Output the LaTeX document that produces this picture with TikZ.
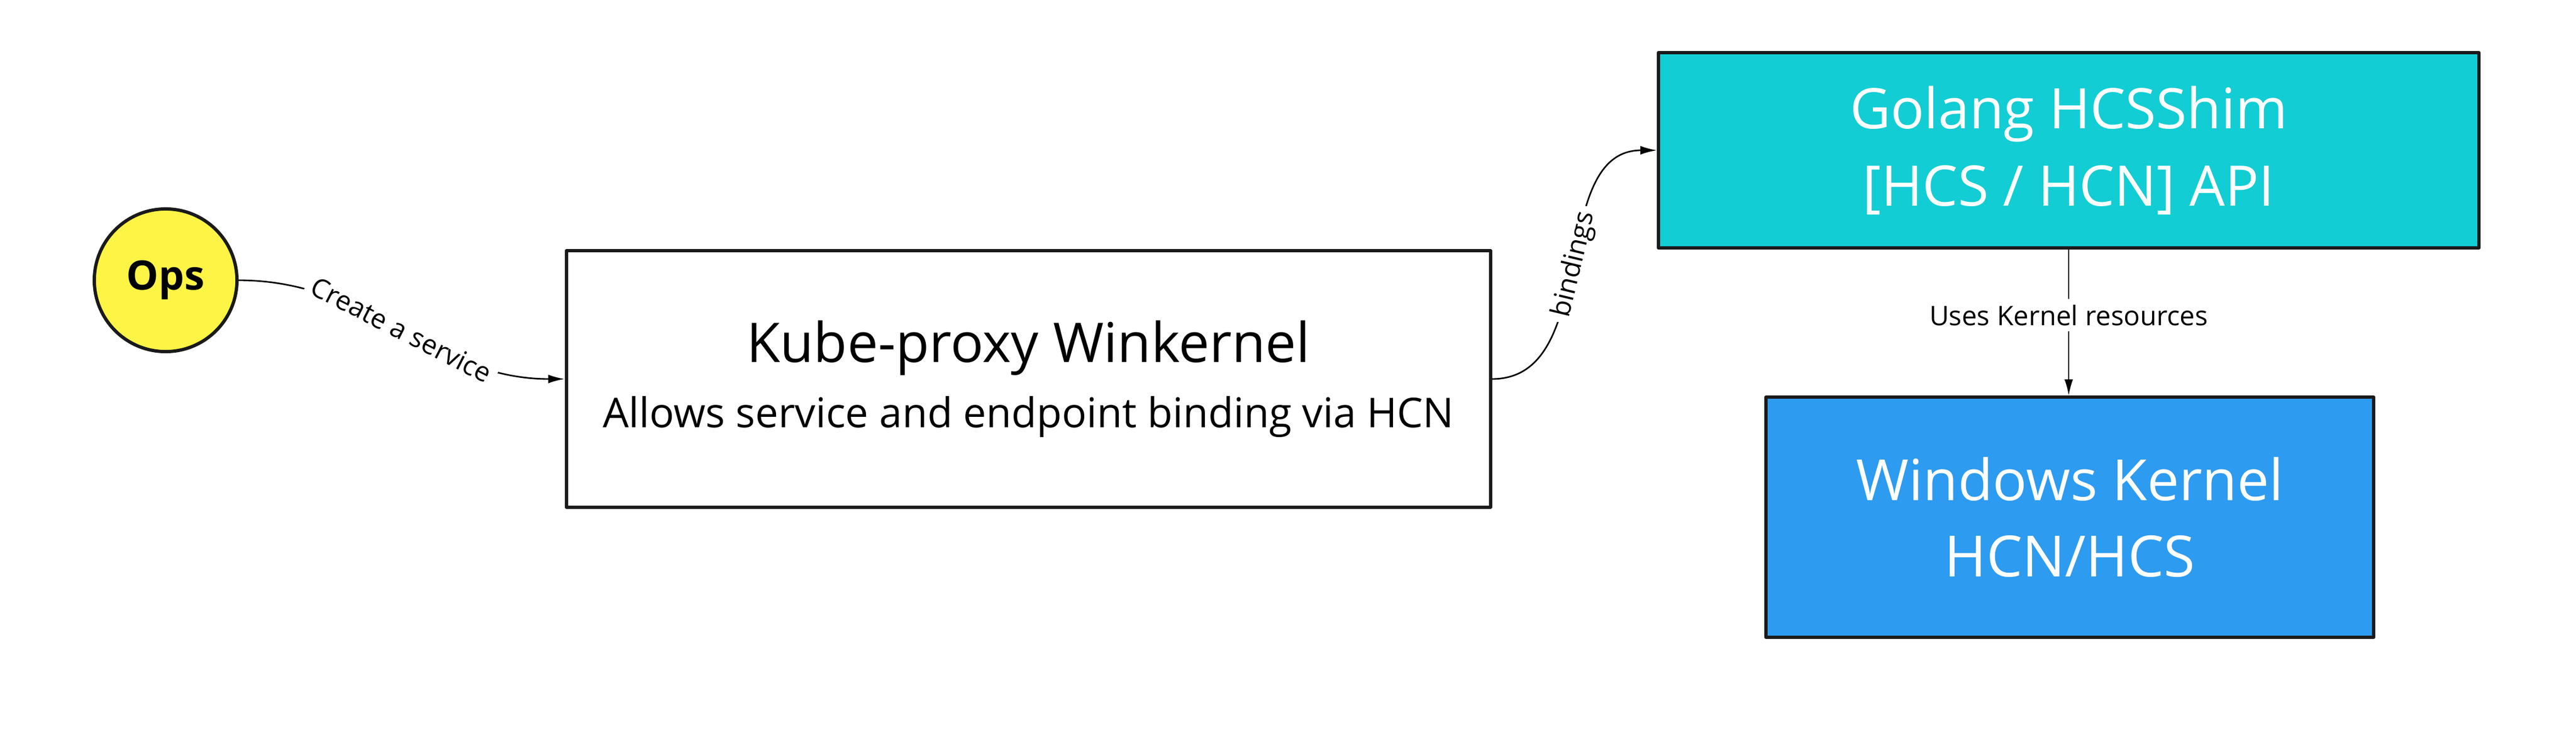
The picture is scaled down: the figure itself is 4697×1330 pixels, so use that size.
\documentclass[tikz,border=0pt]{standalone}
\usepackage{fontspec}
\setmainfont{Open Sans}
\usetikzlibrary{arrows.meta}
\definecolor{opsyellow}{HTML}{FEF445}
\definecolor{shimteal}{HTML}{12CDD4}
\definecolor{kernblue}{HTML}{2D9BF0}
\definecolor{edgegray}{HTML}{1A1A1A}
\tikzset{
  box/.style={draw=edgegray,line width=1.7pt,rectangle,inner sep=0pt,align=center},
  lbl/.style={fill=white,inner sep=3pt,font=\fontsize{14}{17}\selectfont},
  conn/.style={->,line width=0.8pt}
}
\begin{document}
\begin{tikzpicture}[>={Latex[length=8.5pt,width=4.5pt]},line join=round,x=0.01cm,y=-0.01cm]
    \useasboundingbox (0,0) rectangle (4697,1330);
    \node[circle,draw=edgegray,line width=1.7pt,fill=opsyellow,minimum size=2.6cm,inner sep=0pt,font=\fontsize{21}{25}\selectfont\bfseries] (ops) at (302,511) {Ops};
    \node[box,minimum width=16.84cm,minimum height=4.67cm,font=\fontsize{21.3}{34}\selectfont] (kube) at (1875,691) {{\fontsize{28.4}{34}\selectfont Kube-proxy Winkernel}\\Allows service and endpoint binding via HCN};
    \node[box,fill=shimteal,text=white,minimum width=14.95cm,minimum height=3.56cm,font=\fontsize{29}{40}\selectfont] (shim) at (3772,274) {Golang HCSShim\\{[}HCS / HCN{]} API};
    \node[box,fill=kernblue,text=white,minimum width=11.08cm,minimum height=4.37cm,font=\fontsize{29.5}{39.5}\selectfont] (kern) at (3774,943) {Windows Kernel\\HCN/HCS};
    \draw[conn] (ops.east) to[out=0,in=180] node[lbl,sloped]{Create a service} (kube.west);
    \draw[conn] (kube.east) to[out=0,in=180] node[lbl,sloped]{bindings} (shim.west);
    \draw[conn] (shim.south) -- node[lbl,pos=0.45]{Uses Kernel resources} (shim.south |- kern.north);
\end{tikzpicture}
\end{document}
